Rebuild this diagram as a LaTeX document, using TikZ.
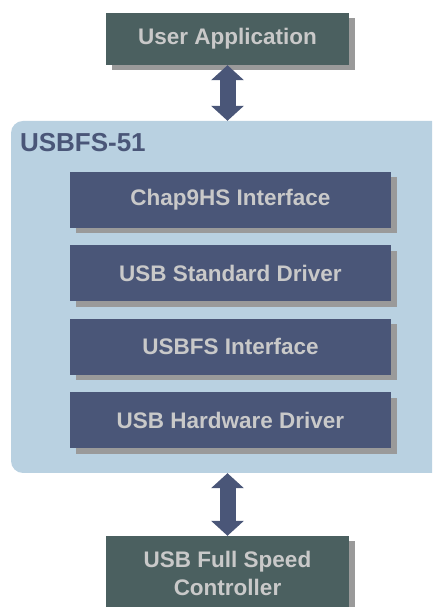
\documentclass[tikz,border=0pt]{standalone}
\usepackage{fontspec}
\setmainfont{Liberation Sans}
\usetikzlibrary{positioning,shadows,arrows.meta}
\definecolor{hostgreen}{HTML}{4B6060}
\definecolor{layerblue}{HTML}{4A5678}
\definecolor{panelblue}{HTML}{B9D1E1}
\definecolor{textgray}{HTML}{C9C9C9}
\definecolor{shadegray}{HTML}{9A9A9A}
\tikzset{
  boxshadow/.style={drop shadow={shadow xshift=5.5pt, shadow yshift=-5.5pt, fill=shadegray, opacity=1}},
  hostbox/.style={fill=hostgreen, boxshadow, minimum width=243pt, inner sep=0pt,
    text=textgray, align=center, font=\bfseries\fontsize{22.5}{28}\selectfont},
  layerbox/.style={fill=layerblue, boxshadow, minimum width=321pt, minimum height=56pt, inner sep=0pt,
    text=textgray, font=\bfseries\fontsize{22.5}{27}\selectfont},
  panel/.style={fill=panelblue, rounded corners=12pt, minimum width=434pt, minimum height=352pt, inner sep=0pt},
  dblarrow/.style={draw=layerblue, line width=16pt,
    {Triangle[width=32pt,length=15pt]}-{Triangle[width=32pt,length=15pt]}},
}
\begin{document}
\begin{tikzpicture}[x=1pt,y=1pt]
\clip (0,0) rectangle (432,607);
\useasboundingbox (0,0) rectangle (432,607);
% host side
\node[hostbox, minimum height=52pt] (app) at (227.5,568) {User Application};
% stack
\node[panel] (usbfs) at (228,310) {};
\node[anchor=base west, inner sep=0pt, text=layerblue, font=\bfseries\fontsize{26}{30}\selectfont]
  (usbfslabel) at ([shift={(9pt,-31pt)}]usbfs.north west) {USBFS-51};
\node[layerbox] (chap) at (230.5,407) {Chap9HS Interface};
\node[layerbox, below=17pt of chap] (stddrv) {USB Standard Driver};
\node[layerbox, below=17pt of stddrv] (fsif) {USBFS Interface};
\node[layerbox, below=17pt of fsif] (hwdrv) {USB Hardware Driver};
% device side
\node[hostbox, minimum height=74pt] (ctrl) at (227.5,34) {USB Full Speed\\Controller};
\draw[dblarrow] (app.south) -- (app.south |- usbfs.north);
\draw[dblarrow] (ctrl.north |- usbfs.south) -- (ctrl.north);
\end{tikzpicture}
\end{document}
